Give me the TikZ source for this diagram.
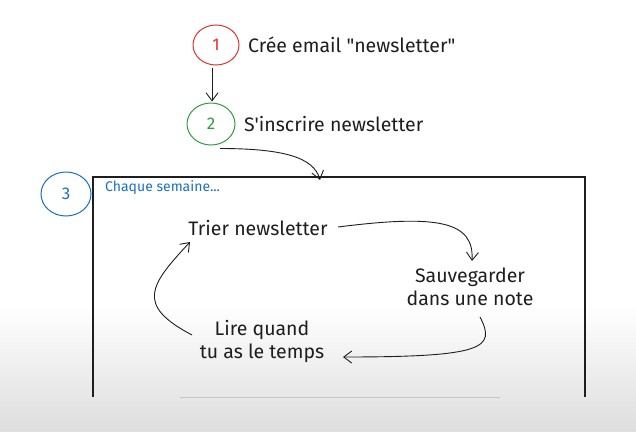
\documentclass[tikz,border=0pt]{standalone}
\usepackage{fontspec}
\setmainfont{Fira Sans}[Ligatures=TeXOff]
\usetikzlibrary{arrows.meta,shapes.geometric}
\definecolor{exred}{HTML}{E03131}
\definecolor{exgreen}{HTML}{2F9E44}
\definecolor{exblue}{HTML}{1971C2}
\definecolor{ink}{HTML}{1E1E1E}
\tikzset{
  numcirc/.style={ellipse, draw, line width=1pt, inner sep=0pt, font=\fontsize{17}{17}\selectfont},
  lbl/.style={text=ink, font=\fontsize{19.5}{23}\selectfont, inner sep=0pt, align=center},
  arr/.style={draw=ink, line width=0.9pt, -{Straight Barb[length=8pt,width=12pt,line width=0.9pt]}},
}
\begin{document}
\begin{tikzpicture}[x=1pt,y=-1pt]
\useasboundingbox (0,0) rectangle (636,431);
\fill[white] (0,0) rectangle (636,305);
\shade[top color=white, bottom color=black!13] (0,305) rectangle (636,431);
% circles
\node[numcirc, draw=exred, text=exred, minimum width=46pt, minimum height=40pt] (c1) at (216,45) {1};
\node[lbl, anchor=west] (t1) at (248,45) {Crée email "newsletter"};
\node[numcirc, draw=exgreen, text=exgreen, minimum width=48pt, minimum height=42pt] (c2) at (211,124) {2};
\node[lbl, anchor=west] (t2) at (244,124) {S'inscrire newsletter};
\node[numcirc, draw=exblue, text=exblue, minimum width=50pt, minimum height=44pt] (c3) at (66,194) {3};
% box
\coordinate (bl) at (93,397);
\coordinate (tl) at (93,177);
\coordinate (tr) at (585,177);
\coordinate (br) at (585,397);
\draw[ink, line width=1.3pt] (bl) -- (tl) -- (tr) -- (br);
\draw[black!22, line width=0.8pt] (180,397) -- (500,397);
\coordinate (boxtop) at (320,180);
\node[anchor=west, text=exblue, font=\fontsize{14}{16}\selectfont, inner sep=0pt] (cs) at (105,188) {Chaque semaine...};
% labels
\node[lbl] (trier) at (258,228) {Trier newsletter};
\node[lbl] (sauv) at (470,287) {Sauvegarder\\dans une note};
\node[lbl] (lire) at (262,341) {Lire quand\\tu as le temps};
% arrows
\draw[arr] ([xshift=-4pt,yshift=-2pt]c1.south) -- ([xshift=1pt,yshift=1pt]c2.north);
\draw[arr] ([shift={(9pt,-3pt)}]c2.south) .. controls +(65,0) and +(-6,-22) .. (boxtop);
\draw[arr] (338,227) .. controls (440,214) and (474,222) .. (472,261);
\draw[arr] (480,317) .. controls (496,348) and (485,357) .. (343,357);
\draw[arr] (192,335) .. controls (135,305) and (150,285) .. (190,242);
\end{tikzpicture}
\end{document}
